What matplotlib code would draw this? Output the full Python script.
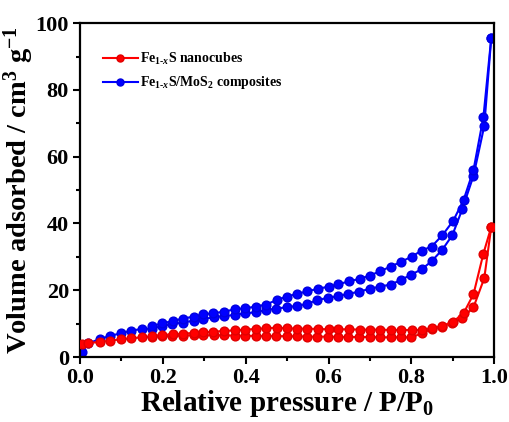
import matplotlib
matplotlib.use('Agg')
import matplotlib.pyplot as plt
import numpy as np

# adsorption branch (shared pressure grid)
p_ads = [0.004, 0.02, 0.048, 0.072, 0.098, 0.123, 0.149, 0.173, 0.199, 0.223,
         0.248, 0.274, 0.298, 0.323, 0.348, 0.374, 0.399, 0.424, 0.449, 0.473,
         0.499, 0.523, 0.548, 0.573, 0.599, 0.624, 0.648, 0.674, 0.699, 0.724,
         0.750, 0.775, 0.800, 0.825, 0.849, 0.875, 0.899, 0.923, 0.950, 0.976, 0.993]
# desorption branch
p_des = [0.993, 0.974, 0.950, 0.926, 0.901, 0.875, 0.849, 0.825, 0.801, 0.775,
         0.750, 0.725, 0.699, 0.675, 0.650, 0.624, 0.600, 0.574, 0.549, 0.523,
         0.499, 0.475, 0.449, 0.424, 0.399, 0.374, 0.348, 0.322, 0.298, 0.274,
         0.248, 0.224, 0.199, 0.174]

blue_ads = [1.5, 4.1, 5.4, 6.3, 7.1, 7.9, 8.4, 8.5, 9.3, 9.9,
            10.3, 10.9, 11.4, 11.9, 12.3, 12.6, 13.1, 13.4, 14.1, 14.5,
            14.9, 15.3, 15.9, 17.1, 17.7, 18.3, 18.9, 19.6, 20.4, 21.1,
            21.7, 23.1, 24.7, 26.3, 28.7, 32.2, 36.5, 44.3, 54.3, 69.2, 95.7]
blue_des = [95.7, 71.9, 56.0, 47.0, 40.8, 36.5, 33.1, 31.9, 30.1, 28.5,
            27.1, 25.7, 24.4, 23.4, 22.7, 21.8, 21.1, 20.4, 19.7, 18.9,
            18.1, 17.1, 15.7, 15.1, 14.6, 14.3, 13.6, 13.1, 12.8, 12.1,
            11.5, 10.8, 10.1, 9.3]

red_ads = [4.0, 4.2, 4.5, 4.9, 5.3, 5.6, 5.9, 6.1, 6.2, 6.3,
           6.4, 6.5, 6.5, 6.5, 6.5, 6.4, 6.4, 6.3, 6.3, 6.3,
           6.2, 6.2, 6.1, 6.1, 6.1, 6.0, 6.0, 6.0, 6.0, 5.9,
           5.9, 5.9, 5.9, 7.1, 8.4, 9.1, 10.3, 11.6, 14.9, 23.6, 39.0]
red_des = [39.0, 31.0, 18.8, 13.1, 10.6, 9.3, 8.6, 8.1, 8.1, 8.1,
           8.1, 8.2, 8.2, 8.2, 8.3, 8.3, 8.3, 8.4, 8.5, 8.5,
           8.6, 8.8, 8.6, 8.4, 8.2, 8.0, 7.8, 7.6, 7.4, 7.2,
           7.0, 6.8, 6.6, 6.3]

plt.rcParams['font.family'] = 'Liberation Serif'
plt.rcParams['font.weight'] = 'bold'
plt.rcParams['mathtext.fontset'] = 'custom'
plt.rcParams['mathtext.rm'] = 'Liberation Serif:bold'
plt.rcParams['mathtext.it'] = 'Liberation Serif:bold:italic'
plt.rcParams['mathtext.bf'] = 'Liberation Serif:bold'

fig = plt.figure(figsize=(5.1, 4.22), dpi=100)
ax = fig.add_axes([0.157, 0.154, 0.812, 0.791])

ms = 6.3
ax.plot(p_ads, red_ads, '-o', color='#ff0000', lw=1.5, ms=ms, mec='#e00000',
        label=r'Fe$_{1\text{-}x}$S nanocubes', zorder=3)
ax.plot(p_des, red_des, '-o', color='#ff0000', lw=1.5, ms=ms, mec='#e00000', zorder=3)
ax.plot(p_ads, blue_ads, '-o', color='#0000ff', lw=1.5, ms=ms, mec='#0000e0',
        label=r'Fe$_{1\text{-}x}$S/MoS$_2$ composites', zorder=2)
ax.plot(p_des, blue_des, '-o', color='#0000ff', lw=1.5, ms=ms, mec='#0000e0', zorder=2)

ax.set_xlim(0, 1.0)
ax.set_ylim(0, 100)
ax.set_xticks(np.arange(0, 1.01, 0.2))
ax.set_xticks(np.arange(0.1, 1.0, 0.2), minor=True)
ax.set_yticks(np.arange(0, 101, 20))
ax.set_yticks(np.arange(10, 100, 20), minor=True)
ax.tick_params(axis='both', which='major', length=5, width=1.5, labelsize=16, pad=3)
ax.tick_params(axis='both', which='minor', length=3, width=1.5)
for lab in ax.get_xticklabels() + ax.get_yticklabels():
    lab.set_fontweight('bold')
for s in ax.spines.values():
    s.set_linewidth(1.6)

ax.set_xlabel('Relative pressure / P/P$_0$', fontsize=21, fontweight='bold', labelpad=0)
ax.set_ylabel('Volume adsorbed / cm$^3$ g$^{-1}$', fontsize=20.5, fontweight='bold', labelpad=0)

ax.legend(loc='upper left', bbox_to_anchor=(0.025, 0.955), frameon=False,
          prop={'family': 'Liberation Serif', 'weight': 'bold', 'size': 10},
          handlelength=2.5, handletextpad=0.2, labelspacing=0.55, markerscale=0.8)

fig.savefig('out.png', dpi=100)
